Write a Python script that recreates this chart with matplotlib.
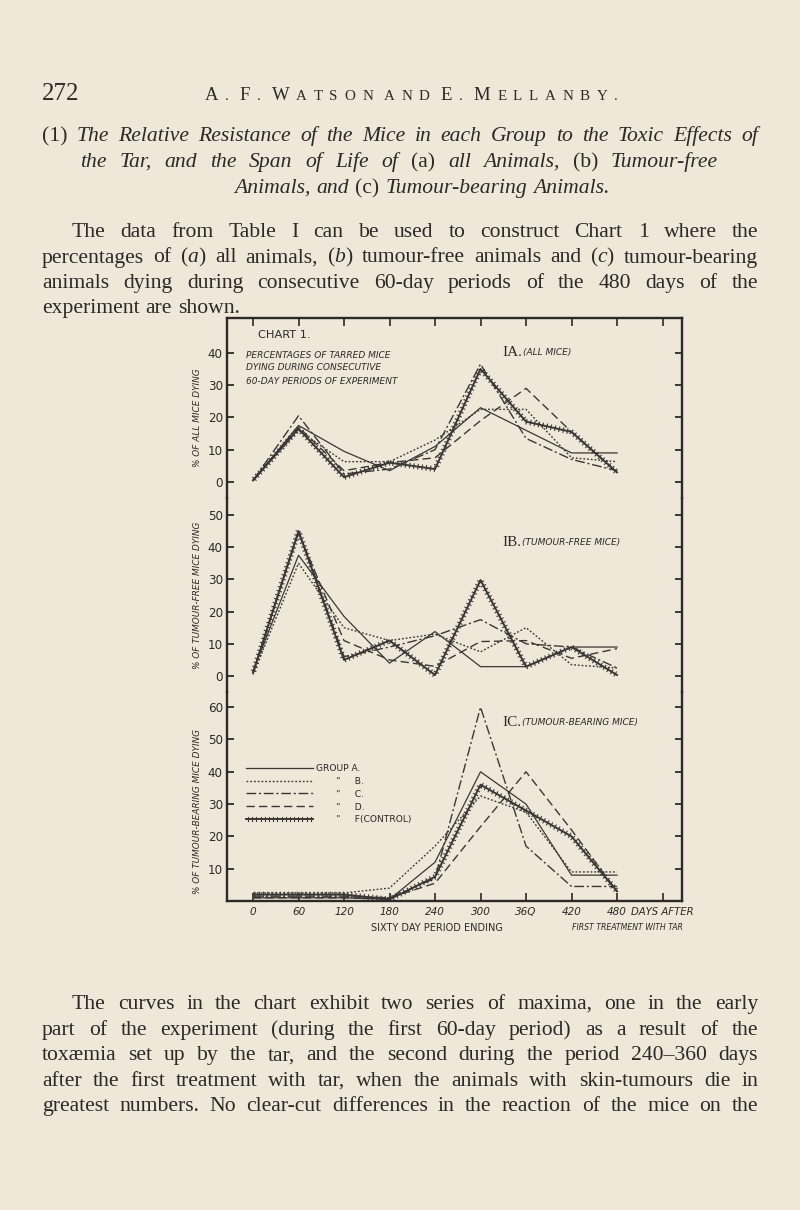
import matplotlib
matplotlib.use('Agg')
import matplotlib.pyplot as plt
import matplotlib.patheffects as pe

plt.rcParams['mathtext.fontset'] = 'custom'
plt.rcParams['mathtext.rm'] = 'Liberation Serif'
plt.rcParams['mathtext.it'] = 'Liberation Serif:italic'

W, H = 800, 1210
BG = '#EFE7D8'
INK = '#2b2a28'
LINE = '#3a3836'

# --- data ---
days = [0, 60, 120, 180, 240, 300, 360, 420, 480]
group_labels = ['GROUP A.', '       "     B.', '       "     C.', '       "     D.', '       "     F(CONTROL)']

# IA: % of all mice dying
all_A = [0.5, 17.5, 9.5, 3.5, 11, 23, 16, 9, 9]
all_B = [0.5, 16, 6.3, 6.3, 13, 22.5, 22.5, 7.5, 6.3]
all_C = [0.5, 20.5, 2.5, 4, 10, 36.5, 13.5, 7, 3.5]
all_D = [0.5, 17, 3.5, 6, 7.5, 19, 29, 15.5, 3]
all_F = [0.5, 16.5, 1.5, 6, 4, 35, 18.7, 15.5, 3]

# IB: % of tumour-free mice dying
free_A = [1.5, 37.5, 18.5, 4, 13.8, 2.9, 2.9, 9, 9]
free_B = [0.5, 35, 15, 11, 13, 7.5, 15, 3.5, 2.5]
free_C = [1, 45, 6, 9, 12.5, 17.5, 10, 9, 2.5]
free_D = [1, 44.5, 11, 5, 3, 10.7, 11, 5.5, 8.5]
free_F = [1, 45, 5, 11, 0.3, 29.8, 2.9, 9, 0.3]

# IC: % of tumour-bearing mice dying
bear_A = [1, 1, 1, 0.5, 12, 40, 30, 8, 8]
bear_B = [2.5, 2.5, 2.5, 4, 17, 32.5, 27.5, 9, 9]
bear_C = [1.5, 1.5, 1.5, 1, 7, 60, 17, 4.5, 4.5]
bear_D = [1, 1, 1, 1, 5.5, 23, 40, 22, 3]
bear_F = [2, 2, 2, 0.5, 7.5, 36, 28, 20, 3]

x_ticks = [0, 60, 120, 180, 240, 300, 360, 420, 480, 540]
x_ticklabels = ['0', '60', '120', '180', '240', '300', '36Q', '420', '480', '']


def fx(x):
    return x / W


def fy(y):
    return 1 - y / H


fig = plt.figure(figsize=(W / 100, H / 100), dpi=100, facecolor=BG)
renderer = fig.canvas.get_renderer()

styles = [
    dict(ls='-', lw=0.9),
    dict(ls=(0, (1.3, 1.4)), lw=1.0),
    dict(ls=(0, (7, 2, 1.5, 2)), lw=1.0),
    dict(ls=(0, (6, 3)), lw=1.0),
    dict(ls='-', lw=1.4, path_effects=[pe.TickedStroke(spacing=3, angle=90, length=0.55, linewidth=0.8),
                                        pe.TickedStroke(spacing=3, angle=-90, length=0.55, linewidth=0.8),
                                        pe.Normal()]),
]

# panel geometry in page pixels
left, right = 227, 682
panels = [
    (318, 498, (-4.95, 50.77), [0, 10, 20, 30, 40], [all_A, all_B, all_C, all_D, all_F]),
    (498, 692, (-4.97, 55.28), [0, 10, 20, 30, 40, 50], [free_A, free_B, free_C, free_D, free_F]),
    (692, 901, (0, 64.7), [10, 20, 30, 40, 50, 60], [bear_A, bear_B, bear_C, bear_D, bear_F]),
]

axes = []
for i, (top, bot, ylim, yt, series) in enumerate(panels):
    ax = fig.add_axes([fx(left), fy(bot), (right - left) / W, (bot - top) / H])
    ax.set_facecolor('none')
    for s, st in zip(series, styles):
        ax.plot(days, s, color=LINE, **st)
    ax.set_xlim(-34.3, 565.7)
    ax.set_ylim(*ylim)
    ax.set_yticks(yt)
    ax.set_yticklabels([str(v) for v in yt])
    ax.tick_params(axis='y', direction='in', left=True, right=True, length=5,
                   width=1.3, labelsize=8.6, pad=3, colors=INK)
    for sp in ax.spines.values():
        sp.set_linewidth(1.7)
        sp.set_color(INK)
    if i != 0:
        ax.spines['top'].set_visible(False)
    if i != 2:
        ax.spines['bottom'].set_visible(False)
    if i == 0:
        ax.xaxis.set_ticks_position('top')
        ax.set_xticks(x_ticks)
        ax.tick_params(axis='x', direction='in', length=6, width=1.2, labeltop=False, colors=INK)
    elif i == 1:
        ax.set_xticks([])
    else:
        ax.set_xticks(x_ticks)
        ax.set_xticklabels(x_ticklabels, style='italic')
        ax.tick_params(axis='x', direction='in', length=6, width=1.2, labelsize=7.5,
                       pad=4, colors=INK)
    axes.append(ax)

axA, axB, axC = axes
leg = axC.legend(axC.get_lines(), group_labels, loc='upper left',
                 bbox_to_anchor=(fx(246), fy(764)), bbox_transform=fig.transFigure,
                 frameon=False, fontsize=6.6, handlelength=7.3, handletextpad=0.3,
                 labelspacing=0.42, borderpad=0, borderaxespad=0)
for t in leg.get_texts():
    t.set_color(INK)

# --- lettering on the chart ---
hand = dict(family='DejaVu Sans', color=INK)
fig.text(fx(258), fy(335), 'CHART 1.', fontsize=8.2, va='center', **hand)
for y, s in [(355, 'PERCENTAGES OF TARRED MICE'), (368, 'DYING DURING CONSECUTIVE'),
             (382, '60-DAY PERIODS OF EXPERIMENT')]:
    fig.text(fx(246), fy(y), s, fontsize=6.5, style='italic', va='center', **hand)

for y, num, txt in [(352, 'IA.', '(ALL MICE)'), (543, 'IB.', '(TUMOUR-FREE MICE)'),
                    (723, 'IC.', '(TUMOUR-BEARING MICE)')]:
    t = fig.text(fx(502), fy(y), num, fontsize=11, family='Liberation Serif', va='center', color=INK)
    wpx = t.get_window_extent(renderer).width
    fig.text(fx(502 + wpx + 1), fy(y), txt, fontsize=6.5, style='italic', va='center', **hand)

for y, s in [(418, '% OF ALL MICE DYING'), (595, '% OF TUMOUR-FREE MICE DYING'),
             (812, '% OF TUMOUR-BEARING MICE DYING')]:
    fig.text(fx(197), fy(y), s, fontsize=6.4, style='italic', rotation=90,
             ha='center', va='center', **hand)

fig.text(fx(631), fy(912), 'DAYS AFTER', fontsize=7.3, style='italic', va='center', **hand)
fig.text(fx(683), fy(927), 'FIRST TREATMENT WITH TAR', fontsize=5.6, style='italic',
         ha='right', va='center', **hand)
fig.text(fx(437), fy(928), 'SIXTY DAY PERIOD ENDING', fontsize=7.0, ha='center', va='center', **hand)


# --- printed page text ---
SERIF = 'Liberation Serif'
BODY = 15.6


def place_line(words, y, x0, x1, size=BODY, mode='justify'):
    arts, widths = [], []
    for w, st in words:
        t = fig.text(0, fy(y), w, fontsize=size, family=SERIF, style=st,
                     color=INK, va='baseline')
        widths.append(t.get_window_extent(renderer).width)
        arts.append(t)
    space = size * 0.28 * 100 / 72
    if mode == 'justify' and len(words) > 1:
        gap = (x1 - x0 - sum(widths)) / (len(words) - 1)
    else:
        gap = space
    total = sum(widths) + gap * (len(words) - 1)
    x = x0 if mode != 'center' else (x0 + x1) / 2 - total / 2
    for t, w in zip(arts, widths):
        t.set_x(fx(x))
        x += w + gap


def words_of(s, style='normal', upright=()):
    out = []
    for w in s.split():
        out.append((w, 'normal' if (w in upright or style == 'normal') else style))
    return out


# running head
fig.text(fx(42), fy(100), '272', fontsize=18, family=SERIF, color=INK, va='baseline')
head = ['A.', 'F.', 'WATSON', 'AND', 'E.', 'MELLANBY.']
big = {('A.', 0), ('F.', 0), ('WATSON', 0), ('E.', 0), ('MELLANBY.', 0)}
chars = []
for wi, w in enumerate(head):
    for ci, c in enumerate(w):
        sz = 13.5 if (w, ci) in big else 10.8
        t = fig.text(0, fy(100), c, fontsize=sz, family=SERIF, color=INK, va='baseline')
        chars.append((t, t.get_window_extent(renderer).width, wi))
word_gap = 11
n_track = len(chars) - len(head)
track = (618 - 205 - sum(c[1] for c in chars) - word_gap * (len(head) - 1)) / n_track
x = 205
prev = 0
for t, w, wi in chars:
    if wi != prev:
        x += word_gap - track
        prev = wi
    t.set_x(fx(x))
    x += w + track

# heading (1)
up = ('(1)', '(a)', '(b)', '(c)')
place_line(words_of('(1) The Relative Resistance of the Mice in each Group to the Toxic Effects of',
                    'italic', up), 141, 42, 758)
place_line(words_of('the Tar, and the Span of Life of (a) all Animals, (b) Tumour-free',
                    'italic', up), 167, 80, 718)
place_line(words_of('Animals, and (c) Tumour-bearing Animals.', 'italic', up), 193, 232, 612,
           mode='center')

para1 = [
    'The data from Table I can be used to construct Chart 1 where the',
    r'percentages of ($\mathit{a}$) all animals, ($\mathit{b}$) tumour-free animals and ($\mathit{c}$) tumour-bearing',
    'animals dying during consecutive 60-day periods of the 480 days of the',
    'experiment are shown.',
]
for k, line in enumerate(para1):
    y = 237 + k * 25.5
    x0 = 72 if k == 0 else 42
    place_line(words_of(line), y, x0, 758, mode='justify' if k < 3 else 'left')

para2 = [
    'The curves in the chart exhibit two series of maxima, one in the early',
    'part of the experiment (during the first 60-day period) as a result of the',
    'toxæmia set up by the tar, and the second during the period 240\u2013360 days',
    'after the first treatment with tar, when the animals with skin-tumours die in',
    'greatest numbers. No clear-cut differences in the reaction of the mice on the',
]
for k, line in enumerate(para2):
    y = 1009 + k * 25.6
    x0 = 72 if k == 0 else 42
    place_line(words_of(line), y, x0, 758)

fig.savefig('out.png', dpi=100, facecolor=BG)
